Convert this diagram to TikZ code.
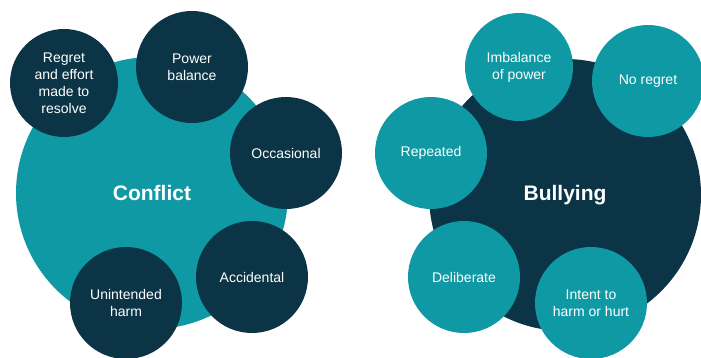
\documentclass[tikz,border=0pt]{standalone}
\usepackage{fontspec}
\setmainfont{Liberation Sans}
\definecolor{teal1}{RGB}{14,153,164}
\definecolor{navy1}{RGB}{11,52,70}
\begin{document}
\begin{tikzpicture}[x=1pt,y=-1pt,
  big/.style={circle,inner sep=0pt,text=white,font=\fontsize{21}{25}\selectfont\bfseries},
  small/.style={circle,inner sep=0pt,minimum size=112pt,text=white,align=center,font=\fontsize{14}{17}\selectfont}]
\useasboundingbox[fill=white] (0,0) rectangle (701,358);
% Conflict side
\node[big,fill=teal1,minimum size=272pt] (conflict) at (152,193) {Conflict};
\node[small,fill=navy1,minimum size=108pt] (regret) at (64,83) {Regret\\and effort\\made to\\resolve};
\node[small,fill=navy1] (power) at (192,67) {Power\\balance};
\node[small,fill=navy1] (occ) at (286,153) {Occasional};
\node[small,fill=navy1] (acc) at (252,277) {Accidental};
\node[small,fill=navy1] (unint) at (126,303) {Unintended\\harm};
% Bullying side
\node[big,fill=navy1,minimum size=272pt] (bully) at (565,195) {Bullying};
\node[small,fill=teal1,minimum size=108pt] (imb) at (519,67) {Imbalance\\of power};
\node[small,fill=teal1] (noreg) at (648,81) {No regret};
\node[small,fill=teal1] (rep) at (431,153) {Repeated};
\node[small,fill=teal1] (del) at (464,277) {Deliberate};
\node[small,fill=teal1] (intent) at (591,303) {Intent to\\harm or hurt};
\end{tikzpicture}
\end{document}
